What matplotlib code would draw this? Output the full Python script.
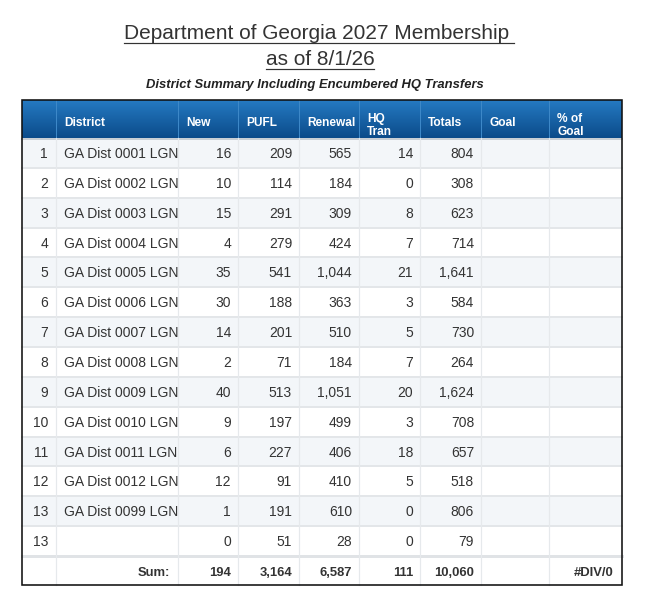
import matplotlib.pyplot as plt
import matplotlib.patches as patches
import numpy as np

# table data
row_nums = [1, 2, 3, 4, 5, 6, 7, 8, 9, 10, 11, 12, 13, 13]
districts = ["GA Dist 0001 LGN", "GA Dist 0002 LGN", "GA Dist 0003 LGN", "GA Dist 0004 LGN",
             "GA Dist 0005 LGN", "GA Dist 0006 LGN", "GA Dist 0007 LGN", "GA Dist 0008 LGN",
             "GA Dist 0009 LGN", "GA Dist 0010 LGN", "GA Dist 0011 LGN", "GA Dist 0012 LGN",
             "GA Dist 0099 LGN", ""]
new = [16, 10, 15, 4, 35, 30, 14, 2, 40, 9, 6, 12, 1, 0]
pufl = [209, 114, 291, 279, 541, 188, 201, 71, 513, 197, 227, 91, 191, 51]
renewal = [565, 184, 309, 424, 1044, 363, 510, 184, 1051, 499, 406, 410, 610, 28]
hq_tran = [14, 0, 8, 7, 21, 3, 5, 7, 20, 3, 18, 5, 0, 0]
totals = [804, 308, 623, 714, 1641, 584, 730, 264, 1624, 708, 657, 518, 806, 79]
headers = ["", "District", "New", "PUFL", "Renewal", "HQ\nTran", "Totals", "Goal", "% of\nGoal"]
pct_goal_sum = "#DIV/0"

title1 = "Department of Georgia 2027 Membership "
title2 = "as of 8/1/26"
subtitle = "District Summary Including Encumbered HQ Transfers"

main_font = "Liberation Sans"
body_size = 10

W, H = 646, 606
fig = plt.figure(figsize=(W / 100, H / 100), dpi=100)
ax = fig.add_axes([0, 0, 1, 1])
ax.set_xlim(0, W)
ax.set_ylim(H, 0)
ax.axis("off")

px = 0.72  # one pixel in points
txt = "#333333"

# column edges and layout
edges = [22, 56, 178, 238, 299, 359, 420, 481, 549, 622]
head_top, head_bot = 100, 138
row_h = (556 - head_bot) / len(row_nums)
sum_top, sum_bot = 556, 585

# header gradient
grad = np.linspace(0, 1, 64).reshape(-1, 1)
c_top = np.array([0x25, 0x7a, 0xc2]) / 255
c_bot = np.array([0x0b, 0x4b, 0x8a]) / 255
img = c_top + grad[..., None] * (c_bot - c_top)
img = np.repeat(img, 2, axis=1)
ax.imshow(img, extent=[edges[0], edges[-1], head_bot, head_top], aspect="auto", zorder=1)
for x in edges[1:-1]:
    ax.plot([x, x], [head_top, head_bot], color="#3d88c8", lw=px, zorder=2)

for i, h in enumerate(headers):
    x0 = edges[i] + 8
    if "\n" in h:
        a, b = h.split("\n")
        ax.text(x0, 122, a, color="white", fontsize=8.6, fontweight="bold", family=main_font, va="baseline")
        ax.text(x0, 135, b, color="white", fontsize=8.6, fontweight="bold", family=main_font, va="baseline")
    else:
        ax.text(x0, 126, h, color="white", fontsize=8.6, fontweight="bold", family=main_font, va="baseline")

# body rows
for r in range(len(row_nums)):
    y0 = head_bot + r * row_h
    if r % 2 == 0:
        ax.add_patch(patches.Rectangle((edges[0], y0), edges[-1] - edges[0], row_h,
                                       facecolor="#f3f6f9", edgecolor="none", zorder=1))
    if r > 0:
        ax.plot([edges[0], edges[-1]], [y0, y0], color="#e3e6e9", lw=2 * px, zorder=2)
    yb = y0 + 20
    ax.text(edges[1] - 8, yb, str(row_nums[r]), ha="right", va="baseline",
            family=main_font, fontsize=body_size, color=txt, zorder=3)
    ax.text(edges[1] + 8, yb, districts[r], ha="left", va="baseline",
            family=main_font, fontsize=body_size, color=txt, zorder=3)
    for j, col in enumerate([new, pufl, renewal, hq_tran, totals]):
        ax.text(edges[j + 3] - 7, yb, f"{col[r]:,}", ha="right", va="baseline",
                family=main_font, fontsize=body_size, color=txt, zorder=3)

# grey line under header and above sum row
ax.plot([edges[0], edges[-1]], [head_bot + 1, head_bot + 1], color="#c9cfd5", lw=2 * px, zorder=2)
ax.plot([edges[0], edges[-1]], [sum_top, sum_top], color="#e0e3e6", lw=3 * px, zorder=2)

for x in edges[1:-1]:
    ax.plot([x, x], [head_bot, sum_bot], color="#e6e9ec", lw=1.2 * px, zorder=2)

# sum row
yb = sum_top + 20
ax.text(edges[2] - 8, yb, "Sum:", ha="right", va="baseline", family=main_font,
        fontsize=9.4, fontweight="bold", color=txt, zorder=3)
for j, col in enumerate([new, pufl, renewal, hq_tran, totals]):
    ax.text(edges[j + 3] - 7, yb, f"{sum(col):,}", ha="right", va="baseline", family=main_font,
            fontsize=9.4, fontweight="bold", color=txt, zorder=3)
ax.text(edges[-1] - 8, yb, pct_goal_sum, ha="right", va="baseline", family=main_font,
        fontsize=9.4, fontweight="bold", color=txt, zorder=3)

# outer border
ax.add_patch(patches.Rectangle((edges[0], head_top), edges[-1] - edges[0], sum_bot - head_top,
                               facecolor="none", edgecolor="#111111", lw=1.6 * px, zorder=4))

# titles
t1 = ax.text(319, 39, title1, ha="center", va="baseline", family=main_font, fontsize=15, color=txt)
t2 = ax.text(320, 65, title2, ha="center", va="baseline", family=main_font, fontsize=15, color=txt)
ax.text(315, 88, subtitle, ha="center", va="baseline", family=main_font, fontsize=9.4,
        fontweight="bold", style="italic", color="#222222")

fig.canvas.draw()
inv = ax.transData.inverted()
for t, yl in [(t1, 42.5), (t2, 68.5)]:
    bb = t.get_window_extent()
    (xa, _), (xb, _) = inv.transform([[bb.x0, bb.y0], [bb.x1, bb.y1]])
    ax.plot([xa, xb], [yl, yl], color=txt, lw=1.2 * px)

fig.savefig("out.png", dpi=100)
